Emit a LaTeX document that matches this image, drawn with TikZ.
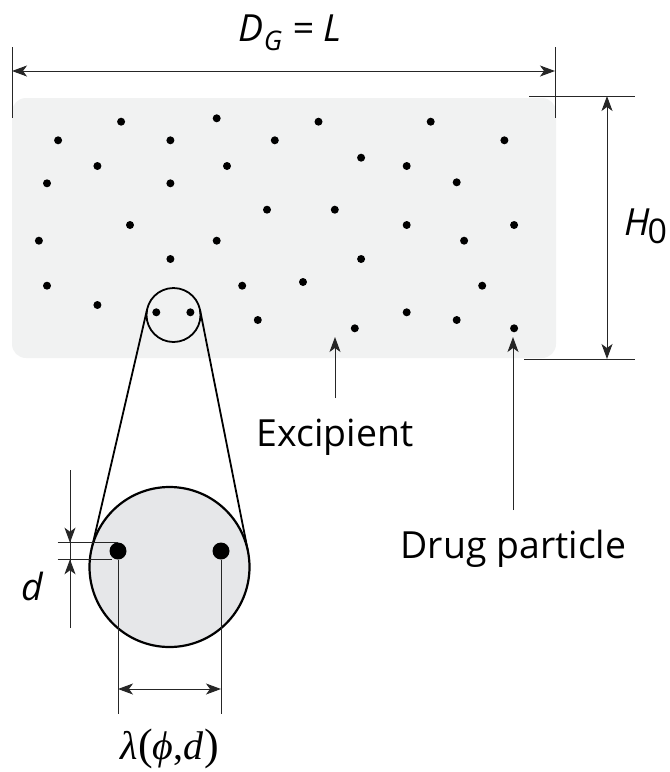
\documentclass[tikz,border=0pt]{standalone}
\usepackage{fontspec}
\setmainfont{Open Sans}
\newfontfamily\timesfont{Liberation Serif}
\usetikzlibrary{arrows.meta}
\definecolor{excip}{HTML}{F1F2F2}
\definecolor{zoomfill}{HTML}{E6E7E9}
\begin{document}
\begin{tikzpicture}[x=1pt,y=-1pt,
  dim/.style={line width=1pt, draw=black!85},
  arr/.style={dim, -{Stealth[length=15pt,width=11pt,inset=4pt]}},
  biarr/.style={dim, {Stealth[length=15pt,width=11pt,inset=4pt]}-{Stealth[length=15pt,width=11pt,inset=4pt]}},
  dot/.style={circle, fill=black, inner sep=0pt, minimum size=8pt},
  bigdot/.style={circle, fill=black, inner sep=0pt, minimum size=17pt},
  lbl/.style={inner sep=0pt, font=\fontsize{37.4}{40}\selectfont},
  tang/.style={line width=1.8pt}]
\useasboundingbox (0,0) rectangle (670,772);

% excipient block
\path[fill=excip, rounded corners=14pt] (12,98) rectangle (556,358);

% drug particles
\foreach \x/\y [count=\i] in {121.1/121.7, 216.7/118.3, 318.5/121.7, 430.7/121.7,
  58.1/140.3, 170.4/140.3, 274.8/140.3, 504.4/140.3,
  97.4/166, 227/166, 361.1/157.7, 406.7/166,
  47/183.3, 170.4/183.3, 456.7/182.3,
  267/209.7, 334.8/209.7,
  130/225, 406.7/225, 514.1/225,
  38.9/240.7, 216.7/240.7, 464.1/240.7,
  170.4/259, 361.1/259,
  47/285.7, 242.2/285.7, 303/282, 482.2/285.7,
  97.4/305, 257.8/320, 406.7/312.3, 456.7/320, 354.8/328.3, 514.1/328.3,
  156.3/312.3, 190.4/312.3}
  \node[dot] (p\i) at (\x,\y) {};

% small selection circle
\node[circle, draw, line width=1.8pt, minimum size=54pt, inner sep=0pt] (sc) at (173.5,315) {};

% tangent lines
\coordinate (tl1) at (147.2,308.9);
\coordinate (tl2) at (91.6,548.9);
\coordinate (tr1) at (200,309.7);
\coordinate (tr2) at (248,551.4);
\draw[tang] (tl1) -- (tl2);
\draw[tang] (tr1) -- (tr2);

% magnified circle
\node[circle, draw, fill=zoomfill, line width=2.2pt, minimum size=160pt, inner sep=0pt] (bc) at (169.5,567) {};
\node[bigdot] (q1) at (118,551) {};
\node[bigdot] (q2) at (221,551) {};

% D_G = L dimension
\coordinate (la) at (12,47);  \coordinate (lb) at (12,118);
\coordinate (ra) at (555,47); \coordinate (rb) at (555,118);
\draw[dim] (la) -- (lb);
\draw[dim] (ra) -- (rb);
\coordinate (wa) at (12,71); \coordinate (wb) at (555,71);
\draw[biarr] (wa) -- (wb);
\node[lbl, anchor=base] (dg) at (290,41.7)
  {\itshape D\raisebox{-9pt}{\fontsize{27}{30}\selectfont G} = L};

% H0 dimension
\coordinate (ta) at (529,96); \coordinate (tb) at (635,96);
\coordinate (ba) at (524,359); \coordinate (bb) at (635,359);
\draw[dim] (ta) -- (tb);
\draw[dim] (ba) -- (bb);
\coordinate (ha) at (607,96); \coordinate (hb) at (607,359);
\draw[biarr] (ha) -- (hb);
\node[lbl, anchor=base west] (h0) at (624,235)
  {\itshape H\upshape\kern-2pt\raisebox{-8pt}{\fontsize{34}{36}\selectfont 0}};

% labels with arrows
\node[lbl, anchor=base] (exc) at (335,446.7) {Excipient};
\coordinate (ea) at (335,398); \coordinate (eb) at (335,337);
\draw[arr] (ea) -- (eb);
\node[lbl, anchor=base] (drug) at (513.5,558) {Drug particle};
\coordinate (da) at (513,510); \coordinate (db) at (513,337);
\draw[arr] (da) -- (db);

% d dimension
\coordinate (d1a) at (57.6,542.7); \coordinate (d1b) at (118,542.7);
\coordinate (d2a) at (57.6,559.3); \coordinate (d2b) at (112,559.3);
\draw[dim] (d1a) -- (d1b);
\draw[dim] (d2a) -- (d2b);
\coordinate (dv1) at (70,470); \coordinate (dv2) at (70,542.7);
\coordinate (dv3) at (70,628); \coordinate (dv4) at (70,559.3);
\draw[dim] (dv1) -- (dv3);
\draw[arr] (dv1) -- (dv2);
\draw[arr] (dv3) -- (dv4);
\node[lbl, anchor=base] (dl) at (32.5,600) {\itshape d};

% lambda dimension
\coordinate (l1a) at (118,560); \coordinate (l1b) at (118,714);
\coordinate (l2a) at (221,560); \coordinate (l2b) at (221,714);
\draw[dim] (l1a) -- (l1b);
\draw[dim] (l2a) -- (l2b);
\coordinate (lam1) at (118,689); \coordinate (lam2) at (221,689);
\draw[biarr] (lam1) -- (lam2);
\node[inner sep=0pt, anchor=base, font=\timesfont\fontsize{40}{44}\selectfont] (lam) at (170,759)
  {\itshape λ\upshape{\fontsize{44}{48}\selectfont(}\itshape ϕ\upshape,\itshape d\upshape\kern1pt{\fontsize{44}{48}\selectfont)}};
\end{tikzpicture}
\end{document}
